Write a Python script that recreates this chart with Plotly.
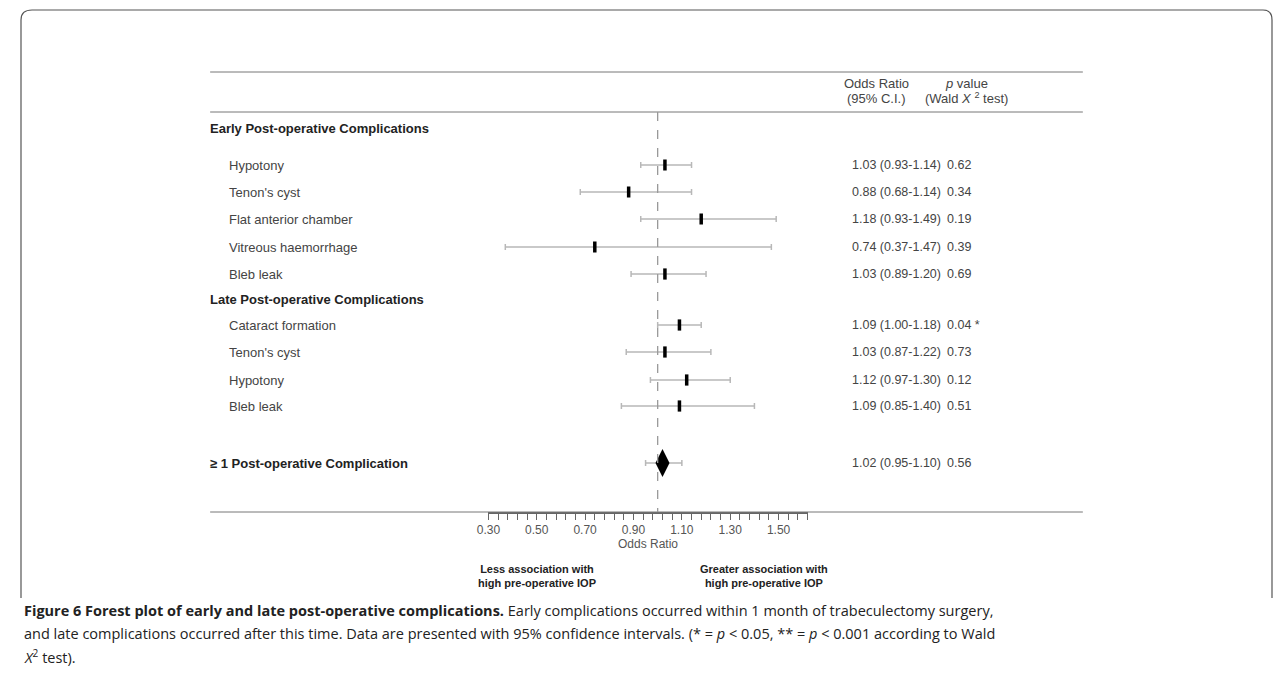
import plotly.graph_objects as go

labels = ["Hypotony", "Tenon's cyst", "Flat anterior chamber", "Vitreous haemorrhage", "Bleb leak",
          "Cataract formation", "Tenon's cyst", "Hypotony", "Bleb leak"]
odds = [1.03, 0.88, 1.18, 0.74, 1.03, 1.09, 1.03, 1.12, 1.09]
lower = [0.93, 0.68, 0.93, 0.37, 0.89, 1.00, 0.87, 0.97, 0.85]
upper = [1.14, 1.14, 1.49, 1.47, 1.20, 1.18, 1.22, 1.30, 1.40]
pvals = ["0.62", "0.34", "0.19", "0.39", "0.69", "0.04 *", "0.73", "0.12", "0.51"]
total = dict(label="≥ 1 Post-operative Complication", odds=1.02, lower=0.95, upper=1.10, p="0.56")
tick_major = [0.30, 0.50, 0.70, 0.90, 1.10, 1.30, 1.50]

# positions are given in reference-picture pixels and converted to paper fractions
W, H = 1265, 672
X0, XW = 20, 1252
Y0 = 8
row_y = [165, 192, 219, 247, 274, 325, 352, 380, 406]
tot_y = 463
FONT = "Liberation Sans, Arial, sans-serif"
GREY = "#444"


def px(x):
    return (x - X0) / XW


def py(y):
    return 1 - (y - Y0) / H


fig = go.Figure()
fig.add_trace(go.Scatter(
    x=odds, y=row_y, mode="markers",
    marker=dict(symbol="line-ns-open", size=8, color="black", line=dict(width=3.5, color="black")),
    error_x=dict(type="data", symmetric=False,
                 array=[u - o for u, o in zip(upper, odds)],
                 arrayminus=[o - l for o, l in zip(odds, lower)],
                 color="#b8b8b8", thickness=1.5, width=3),
    showlegend=False, hoverinfo="skip"))
fig.add_trace(go.Scatter(
    x=[total["odds"]], y=[tot_y], mode="markers",
    marker=dict(symbol="diamond-tall", size=20, color="black"),
    error_x=dict(type="data", symmetric=False, array=[total["upper"] - total["odds"]],
                 arrayminus=[total["odds"] - total["lower"]], color="#b8b8b8", thickness=1.5, width=3),
    showlegend=False, hoverinfo="skip"))

ticks = [round(0.30 + 0.04 * k, 2) for k in range(34)]
ticktext = [f"{t:.2f}" if any(abs(t - m) < 1e-6 for m in tick_major) else "" for t in ticks]

fig.update_layout(
    width=W, height=H, margin=dict(l=0, r=0, t=0, b=0),
    paper_bgcolor="white", plot_bgcolor="rgba(0,0,0,0)",
    font=dict(family=FONT, size=13, color=GREY),
    xaxis=dict(domain=[px(488), px(807)], range=[0.30, 1.62], anchor="free", position=py(513),
               showgrid=False, zeroline=False, showline=True, linecolor="#666", linewidth=1.5,
               ticks="outside", ticklen=6, tickcolor="#666", tickvals=ticks, ticktext=ticktext,
               tickfont=dict(size=12, color="#555"),
               title=dict(text="Odds Ratio", font=dict(size=12, color="#555"), standoff=2)),
    yaxis=dict(domain=[0, 1], range=[Y0 + H, Y0], visible=False),
)


def line(x0, y0, x1, y1):
    fig.add_shape(type="line", xref="paper", yref="y", x0=px(x0), x1=px(x1), y0=y0, y1=y1,
                  line=dict(color="#777", width=1))


line(210, 72, 1082, 72)
line(210, 112, 1082, 112)
line(210, 512, 1082, 512)
fig.add_shape(type="line", xref="x", yref="y", x0=1, x1=1, y0=112, y1=512,
              line=dict(color="#999", width=1.3, dash="dash"))
fig.add_shape(type="path", xref="paper", yref="paper",
              path=f"M {px(21)},{py(598)} L {px(21)},{py(20)} Q {px(21)},{py(10)} {px(32)},{py(10)} "
                   f"L {px(1262)},{py(10)} Q {px(1271)},{py(10)} {px(1271)},{py(20)} L {px(1271)},{py(598)}",
              line=dict(color="#555", width=1.2))


def text(x, y, s, anchor="left", size=13, color=GREY, bold=False, family=FONT):
    fig.add_annotation(xref="paper", yref="y", x=px(x - 2 if anchor == "left" else x), y=y,
                       text=f"<b>{s}</b>" if bold else s,
                       showarrow=False, xanchor=anchor, yanchor="middle",
                       font=dict(size=size, color=color, family=family))


text(876, 83, "Odds Ratio", "center")
text(876, 98, "(95% C.I.)", "center")
text(966, 83, "<i>p</i> value", "center")
text(966, 98, "(Wald <i>X</i> <sup>2</sup> test)", "center")
text(210, 128, "Early Post-operative Complications", bold=True, color="#222")
text(210, 299, "Late Post-operative Complications", bold=True, color="#222")
text(210, tot_y, total["label"], bold=True, color="#222")
for lab, y, o, lo, up, p in zip(labels, row_y, odds, lower, upper, pvals):
    text(229, y, lab)
    text(851, y, f"{o:.2f} ({lo:.2f}-{up:.2f})", size=12.5)
    text(946, y, p, size=12.5)
text(851, tot_y, f"{total['odds']:.2f} ({total['lower']:.2f}-{total['upper']:.2f})", size=12.5)
text(946, tot_y, total["p"], size=12.5)
text(537, 576, "Less association with<br>high pre-operative IOP", "center", size=11, color="#222", bold=True)
text(763, 576, "Greater association with<br>high pre-operative IOP", "center", size=11, color="#222", bold=True)

cap = ["<b>Figure 6 Forest plot of early and late post-operative complications.</b> Early complications occurred within 1 month of trabeculectomy surgery,",
       "and late complications occurred after this time. Data are presented with 95% confidence intervals. (* = <i>p</i> &lt; 0.05, ** = <i>p</i> &lt; 0.001 according to Wald",
       "<i>X</i><sup>2</sup> test)."]
for i, c in enumerate(cap):
    text(24, 610 + 23 * i, c, size=14.5, color="#222", family="Open Sans, sans-serif")

fig.write_html("out.html")
